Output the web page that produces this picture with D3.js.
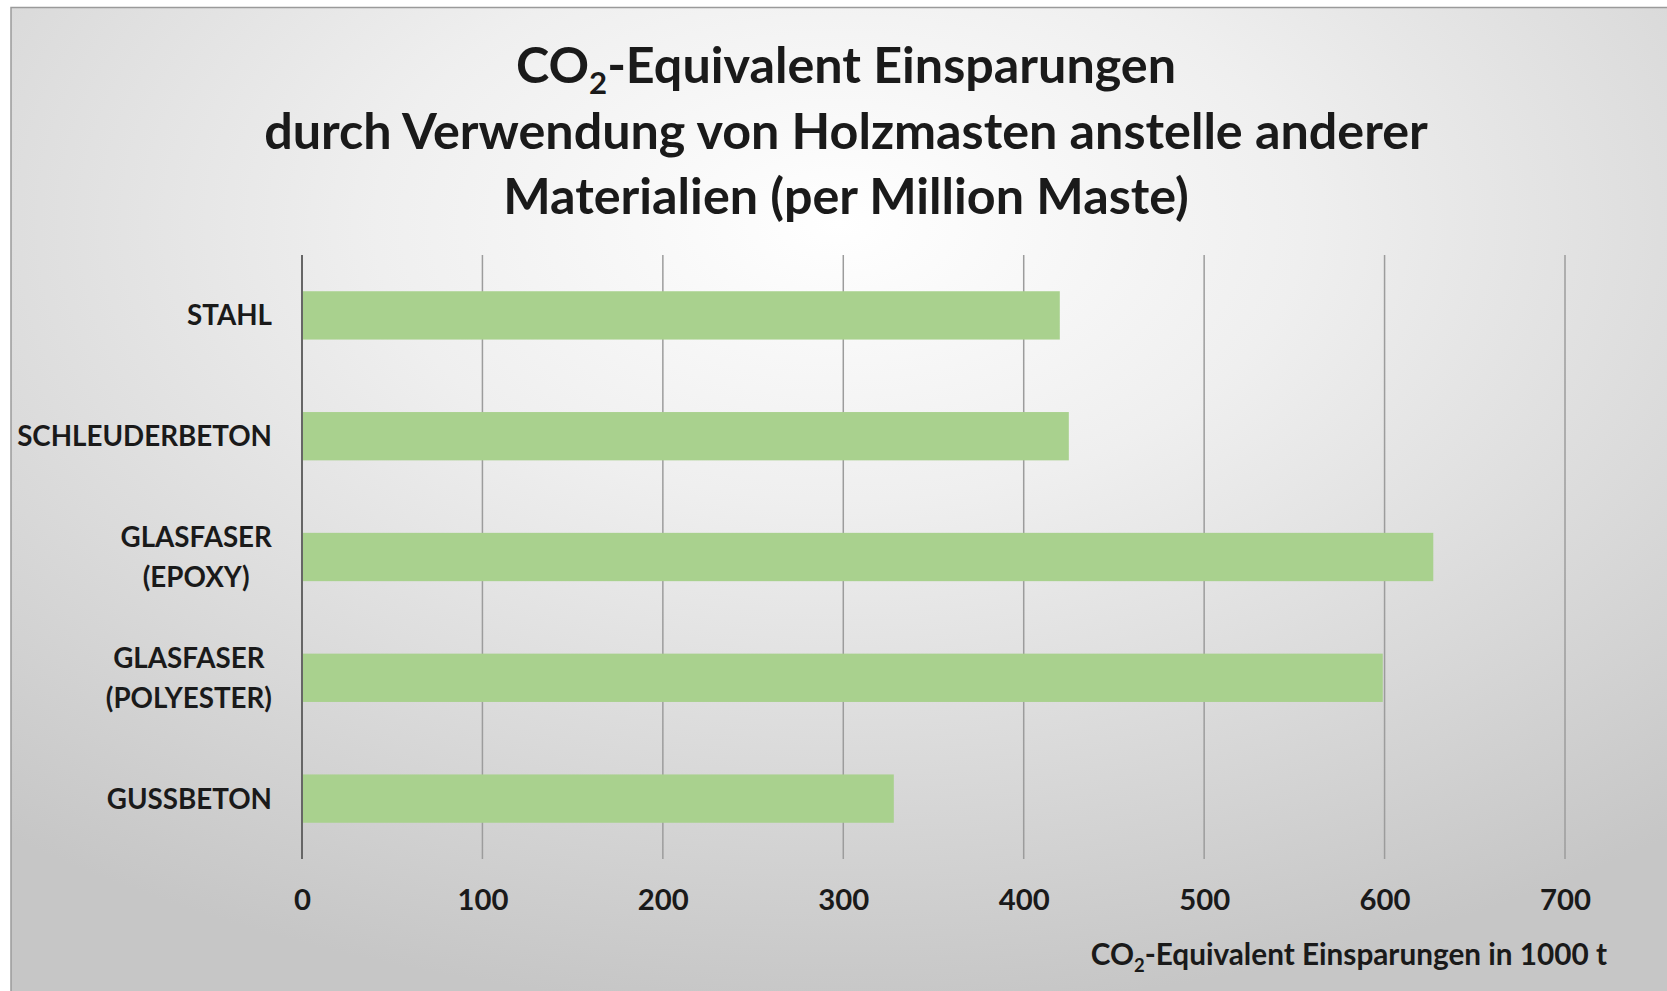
<!DOCTYPE html>
<html>
<head>
<meta charset="utf-8">
<script src="https://cdn.jsdelivr.net/npm/d3@7"></script>
<style>
  body { margin: 0; background: #fff; }
  text { font-family: Lato, "Open Sans", sans-serif; font-weight: 700; fill: #1a1a1a; }
</style>
</head>
<body>
<div id="chart"></div>
<script>
var categories = ["STAHL", "SCHLEUDERBETON", "GLASFASER (EPOXY)", "GLASFASER (POLYESTER)", "GUSSBETON"];
var labelLines = [["STAHL"], ["SCHLEUDERBETON"], ["GLASFASER", "(EPOXY)"], ["GLASFASER", "(POLYESTER)"], ["GUSSBETON"]];
var savings = [420, 425, 627, 599, 328];
var ticks = [0, 100, 200, 300, 400, 500, 600, 700];

var width = 1667, height = 991;
var margin = {top: 255, right: 102, bottom: 132, left: 302};

var svg = d3.select("#chart").append("svg")
    .attr("width", width)
    .attr("height", height);

// background
var defs = svg.append("defs");
var grad = defs.append("radialGradient")
    .attr("id", "bg")
    .attr("cx", "50%").attr("cy", "22%").attr("r", "80%");
grad.append("stop").attr("offset", "0%").attr("stop-color", "#ffffff");
grad.append("stop").attr("offset", "35%").attr("stop-color", "#efefef");
grad.append("stop").attr("offset", "100%").attr("stop-color", "#c6c6c6");

svg.append("rect")
    .attr("x", 11).attr("y", 7)
    .attr("width", width - 11).attr("height", height - 7)
    .attr("fill", "url(#bg)");
svg.append("path")
    .attr("d", "M11," + height + "V7.5H" + width)
    .attr("fill", "none")
    .attr("stroke", "#9a9a9a")
    .attr("stroke-width", 1.5);

var x = d3.scaleLinear()
    .domain([0, 700])
    .range([margin.left, width - margin.right]);

var y = d3.scaleBand()
    .domain(categories)
    .range([margin.top, height - margin.bottom])
    .paddingInner(0.6)
    .paddingOuter(0.3);

// helper: pick a font size so a text fills a given width
function fitSize(str, target) {
  var t = svg.append("text").attr("font-size", 100).text(str);
  var w = t.node().getComputedTextLength();
  t.remove();
  return 100 * target / w;
}

// gridlines
svg.append("g")
  .selectAll("line")
  .data(ticks)
  .join("line")
    .attr("x1", d => x(d)).attr("x2", d => x(d))
    .attr("y1", margin.top).attr("y2", height - margin.bottom)
    .attr("stroke", d => d === 0 ? "#666" : "#9c9c9c")
    .attr("stroke-width", d => d === 0 ? 2 : 1.5);

// bars
svg.append("g")
  .selectAll("rect")
  .data(categories)
  .join("rect")
    .attr("x", x(0) + 1)
    .attr("y", d => y(d))
    .attr("width", (d, i) => x(savings[i]) - x(0) - 1)
    .attr("height", y.bandwidth())
    .attr("fill", "#a9d18e");

// x tick labels
var tickSize = fitSize("700", 51);
var xAxis = d3.axisBottom(x).tickValues(ticks).tickSize(0).tickPadding(0);
var gx = svg.append("g")
    .attr("transform", "translate(0," + 910 + ")")
    .call(xAxis);
gx.select(".domain").remove();
gx.selectAll("text")
    .attr("y", 0).attr("dy", 0)
    .attr("font-size", tickSize)
    .style("font-family", "Lato, 'Open Sans', sans-serif")
    .style("font-weight", 700)
    .attr("fill", "#1a1a1a");

// category labels (lines centred on each other, block right-aligned)
var catSize = fitSize("SCHLEUDERBETON", 255);
var lineGap = 40;
var cat = svg.append("g")
  .selectAll("text")
  .data(categories)
  .join("text")
    .attr("text-anchor", "middle")
    .attr("font-size", catSize);
cat.each(function(d, i) {
  var lines = labelLines[i];
  var cy = y(d) + y.bandwidth() / 2;
  var node = d3.select(this);
  lines.forEach(function(l, j) {
    node.append("tspan")
        .attr("x", 0)
        .attr("y", cy + (j - (lines.length - 1) / 2) * lineGap + catSize * 0.36)
        .text(l);
  });
  var w = this.getBBox().width;
  node.selectAll("tspan").attr("x", 272 - w / 2);
});

// title
var titleLines = ["CO|2|-Equivalent Einsparungen", "durch Verwendung von Holzmasten anstelle anderer", "Materialien (per Million Maste)"];
var titleSize = fitSize(titleLines[1], 1164);
var title = svg.append("text")
    .attr("text-anchor", "middle")
    .attr("font-size", titleSize);
titleLines.forEach(function(l, i) {
  var parts = l.split("|");
  var yy = 83 + i * 65.5;
  if (parts.length === 1) {
    title.append("tspan").attr("x", 846).attr("y", yy).text(l);
  } else {
    title.append("tspan").attr("x", 846).attr("y", yy).text(parts[0]);
    title.append("tspan").attr("font-size", titleSize * 0.62).attr("dy", titleSize * 0.22).text(parts[1]);
    title.append("tspan").attr("dy", -titleSize * 0.22).text(parts[2]);
  }
});

// axis title
var axSize = fitSize("CO2-Equivalent Einsparungen in 1000 t", 523);
var ax = svg.append("text")
    .attr("text-anchor", "end")
    .attr("x", 1607).attr("y", 965)
    .attr("font-size", axSize);
ax.append("tspan").text("CO");
ax.append("tspan").attr("font-size", axSize * 0.62).attr("dy", axSize * 0.22).text("2");
ax.append("tspan").attr("dy", -axSize * 0.22).text("-Equivalent Einsparungen in 1000 t");
</script>
</body>
</html>
